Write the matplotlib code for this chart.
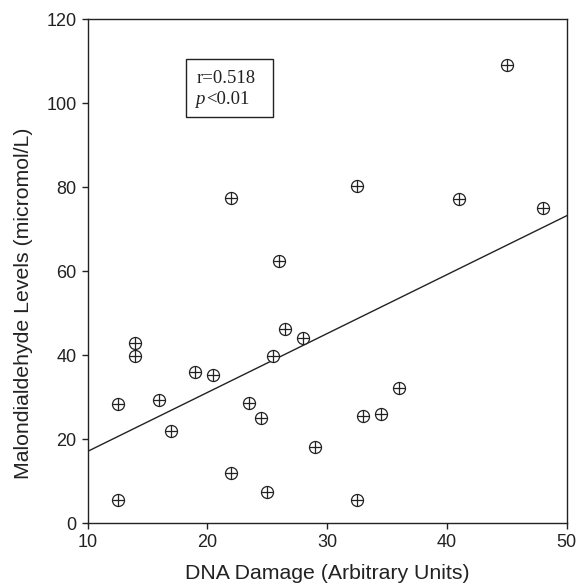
"""
scatter of dna damage against malondialdehyde levels with a fitted line
"""

import matplotlib
matplotlib.use("Agg")
import matplotlib.pyplot as plt
from matplotlib.patches import Rectangle

dna_damage = [12.5, 12.5, 14.0, 14.0, 16.0, 17.0, 19.0, 20.5, 22.0, 23.5,
              24.5, 25.0, 25.5, 26.5, 28.0, 29.0, 32.5, 33.0, 34.5, 36.0,
              22.0, 26.0, 45.0, 32.5, 41.0, 48.0]
mda_levels = [28.3, 5.5, 43.0, 39.9, 29.4, 22.0, 35.9, 35.4, 11.9, 28.6,
              25.1, 7.4, 39.7, 46.3, 44.1, 18.2, 5.5, 25.5, 25.9, 32.1,
              77.5, 62.5, 109.0, 80.3, 77.2, 75.1]

# fitted line
fit_x = [10, 50]
fit_y = [17.1, 73.2]

r_text = "r=0.518"
p_text = "<0.01"

plt.rcParams["font.family"] = ["Liberation Sans", "DejaVu Sans"]
ink = "#222222"

fig = plt.figure(figsize=(5.76, 5.85), dpi=100)
ax = fig.add_axes([0.152, 0.1055, 0.832, 0.862])

ax.plot(fit_x, fit_y, color=ink, lw=1.0, zorder=2)
ax.scatter(dna_damage, mda_levels, s=75, facecolors="white", edgecolors=ink,
           linewidths=0.9, zorder=3)
ax.scatter(dna_damage, mda_levels, s=75, marker="+", color=ink,
           linewidths=0.9, zorder=4)

ax.set_xlim(10, 50)
ax.set_ylim(0, 120)
ax.set_xticks([10, 20, 30, 40, 50])
ax.set_yticks([0, 20, 40, 60, 80, 100, 120])

for side in ax.spines.values():
    side.set_color(ink)
    side.set_linewidth(1.0)
ax.tick_params(direction="out", length=4, width=1.0, color=ink,
               labelsize=13, labelcolor=ink, pad=4)

ax.set_xlabel("DNA Damage (Arbitrary Units)", fontsize=15.3, color=ink, labelpad=9)
ax.set_ylabel("Malondialdehyde Levels (micromol/L)", fontsize=15.3, color=ink)
ax.yaxis.set_label_coords(-0.114, 0.437)

box = Rectangle((0.2045, 0.8057), 0.1815, 0.1143, transform=ax.transAxes,
                facecolor="white", edgecolor=ink, lw=1.0, zorder=5)
ax.add_patch(box)
ax.text(0.227, 0.873, r_text, transform=ax.transAxes, fontsize=13.5,
        family="Liberation Serif", color=ink, zorder=6)
ax.text(0.224, 0.8305, "p", transform=ax.transAxes, fontsize=13.5,
        family="Liberation Serif", style="italic", color=ink, zorder=6)
ax.text(0.2475, 0.8305, p_text, transform=ax.transAxes, fontsize=13.5,
        family="Liberation Serif", color=ink, zorder=6)

fig.savefig("out.png", dpi=100)
